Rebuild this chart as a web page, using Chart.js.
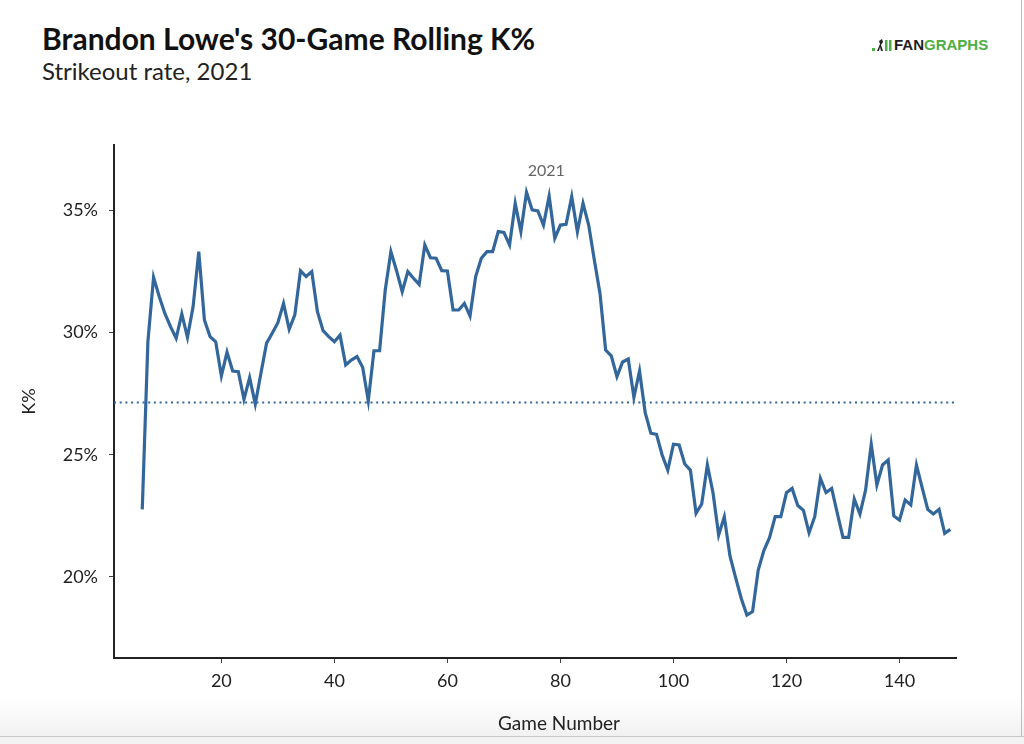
<!DOCTYPE html>
<html>
<head>
<meta charset="utf-8">
<script src="https://cdn.jsdelivr.net/npm/chart.js@4"></script>
<style>
  html, body { margin: 0; padding: 0; }
  body {
    width: 1024px; height: 744px; position: relative; overflow: hidden;
    background: linear-gradient(to bottom, #fff 0, #fff 698px, #f1f1f1 736px, #c8c8c8 736px, #c8c8c8 737px, #f3f3f3 737px);
    font-family: Lato, sans-serif; color: #111;
  }
  #frame { position: absolute; left: 1021px; top: 0; width: 1px; height: 737px; background: #bdbdbd; }
  #title { position: absolute; left: 42px; top: 23px; font-size: 30px; line-height: 30px; font-weight: 700; color: #111; white-space: nowrap; }
  #subtitle { position: absolute; left: 42px; top: 59px; font-size: 24px; line-height: 24px; color: #222; white-space: nowrap; }
  #xtitle { position: absolute; left: 459px; width: 200px; top: 713px; text-align: center; font-size: 19px; line-height: 19px; color: #222; }
  #logo { position: absolute; left: 871px; top: 36px; height: 16px; display: flex; align-items: flex-end; }
  #logo span { font-family: "Liberation Sans", Arial, sans-serif; font-weight: 700; font-size: 15px; line-height: 15px; }
  #chart { position: absolute; left: 0; top: 0; }
</style>
</head>
<body>
<div id="frame"></div>
<div id="title">Brandon Lowe's 30-Game Rolling K%</div>
<div id="subtitle">Strikeout rate, 2021</div>
<div id="logo">
  <svg width="22" height="14" viewBox="0 0 22 14">
    <rect x="1" y="10" width="3" height="3" fill="#4cae44"></rect>
    <path d="M6 13 L9 6 L8 3 L11 1 L12 4 L10 7 L12 13 L10 13 L9 9 L8 13 Z" fill="#222"></path>
    <rect x="14" y="2" width="2.5" height="11" fill="#4cae44"></rect>
    <rect x="18" y="2" width="2.5" height="11" fill="#4cae44"></rect>
  </svg>
  <span style="color:#1d1d1d; margin-left:1px">FAN</span><span style="color:#4cae44">GRAPHS</span>
</div>
<canvas id="chart" width="1024" height="744"></canvas>
<div id="xtitle">Game Number</div>
<script>
  // games 6..149, 30-game rolling strikeout rate (%)
  const firstGame = 6;
  const kPct = [
    22.76, 29.63, 32.27, 31.48, 30.79, 30.25, 29.77, 30.77, 29.81, 31.07,
    33.32, 30.52, 29.84, 29.63, 28.23, 29.2, 28.43, 28.4, 27.27, 28.16,
    27.08, 28.34, 29.57, 29.98, 30.41, 31.2, 30.14, 30.73, 32.54, 32.3,
    32.5, 30.86, 30.08, 29.84, 29.63, 29.9, 28.68, 28.88, 29.02, 28.58,
    27.21, 29.26, 29.26, 31.75, 33.32, 32.54, 31.68, 32.5, 32.23, 31.98,
    33.59, 33.07, 33.05, 32.54, 32.53, 30.93, 30.93, 31.2, 30.68, 32.3,
    33.05, 33.32, 33.32, 34.14, 34.11, 33.59, 35.3, 34.14, 35.75, 35.03,
    34.99, 34.41, 35.6, 33.87, 34.41, 34.44, 35.57, 34.14, 35.3, 34.41,
    32.98, 31.61, 29.29, 29.05, 28.2, 28.8, 28.92, 27.35, 28.43, 26.72,
    25.88, 25.83, 24.99, 24.37, 25.43, 25.4, 24.62, 24.37, 22.6, 22.98,
    24.58, 23.44, 21.71, 22.46, 20.85, 19.96, 19.11, 18.43, 18.57, 20.27,
    21.07, 21.6, 22.46, 22.46, 23.44, 23.62, 22.92, 22.72, 21.8, 22.46,
    24.03, 23.45, 23.62, 22.6, 21.61, 21.61, 23.18, 22.57, 23.55, 25.43,
    23.76, 24.58, 24.78, 22.49, 22.32, 23.14, 22.94, 24.58, 23.66, 22.76,
    22.57, 22.76, 21.78, 21.94
  ];
  const seasonAvg = 27.14;
  const seriesLabel = "2021";
  const labelAt = { x: 77.5, y: 36.62 };
  const xTicks = [20, 40, 60, 80, 100, 120, 140];
  const yTicks = [20, 25, 30, 35];
  const xRange = [1, 150];
  const yRange = [16.67, 37.69];

  const lineColor = "#33679b";
  const inkColor = "#222";

  const points = kPct.map((v, i) => ({ x: firstGame + i, y: v }));
  const avgPoints = xRange.map((x) => ({ x: x, y: seasonAvg }));

  const seriesLabelPlugin = {
    id: "seriesLabel",
    afterDatasetsDraw(chart) {
      const ctx = chart.ctx;
      ctx.save();
      ctx.font = "16px Lato";
      ctx.fillStyle = "#666";
      ctx.textAlign = "center";
      ctx.textBaseline = "middle";
      ctx.fillText(seriesLabel, chart.scales.x.getPixelForValue(labelAt.x), chart.scales.y.getPixelForValue(labelAt.y));
      ctx.restore();
    },
  };

  new Chart(document.getElementById("chart"), {
    type: "line",
    data: {
      datasets: [
        {
          data: points,
          borderColor: lineColor,
          borderWidth: 3.2,
          pointRadius: 0,
          tension: 0,
          fill: false,
        },
        {
          data: avgPoints,
          borderColor: lineColor,
          borderWidth: 2,
          borderDash: [2, 3.7],
          pointRadius: 0,
          fill: false,
        },
      ],
    },
    options: {
      responsive: false,
      animation: false,
      layout: { padding: { left: 0, top: 145, right: 68, bottom: 0 } },
      plugins: {
        legend: { display: false },
        tooltip: { enabled: false },
      },
      scales: {
        x: {
          type: "linear",
          min: xRange[0],
          max: xRange[1],
          afterBuildTicks: (scale) => {
            scale.ticks = xTicks.map((v) => ({ value: v }));
          },
          afterFit: (scale) => {
            scale.height = 86;
          },
          grid: { drawOnChartArea: false, tickLength: 5, color: "#444" },
          border: { color: inkColor, width: 2 },
          ticks: { color: inkColor, font: { family: "Lato", size: 18 }, padding: 7, maxRotation: 0 },
        },
        y: {
          min: yRange[0],
          max: yRange[1],
          afterBuildTicks: (scale) => {
            scale.ticks = yTicks.map((v) => ({ value: v }));
          },
          afterFit: (scale) => {
            scale.width = 114;
          },
          grid: { drawOnChartArea: false, tickLength: 5, color: "#444" },
          border: { color: inkColor, width: 2 },
          ticks: {
            color: inkColor,
            font: { family: "Lato", size: 18 },
            padding: 11,
            callback: (v) => v + "%",
          },
          title: {
            display: true,
            text: "K%",
            color: inkColor,
            font: { family: "Lato", size: 18 },
            padding: { top: 18, bottom: 0 },
          },
        },
      },
    },
    plugins: [seriesLabelPlugin],
  });
</script>
</body>
</html>
